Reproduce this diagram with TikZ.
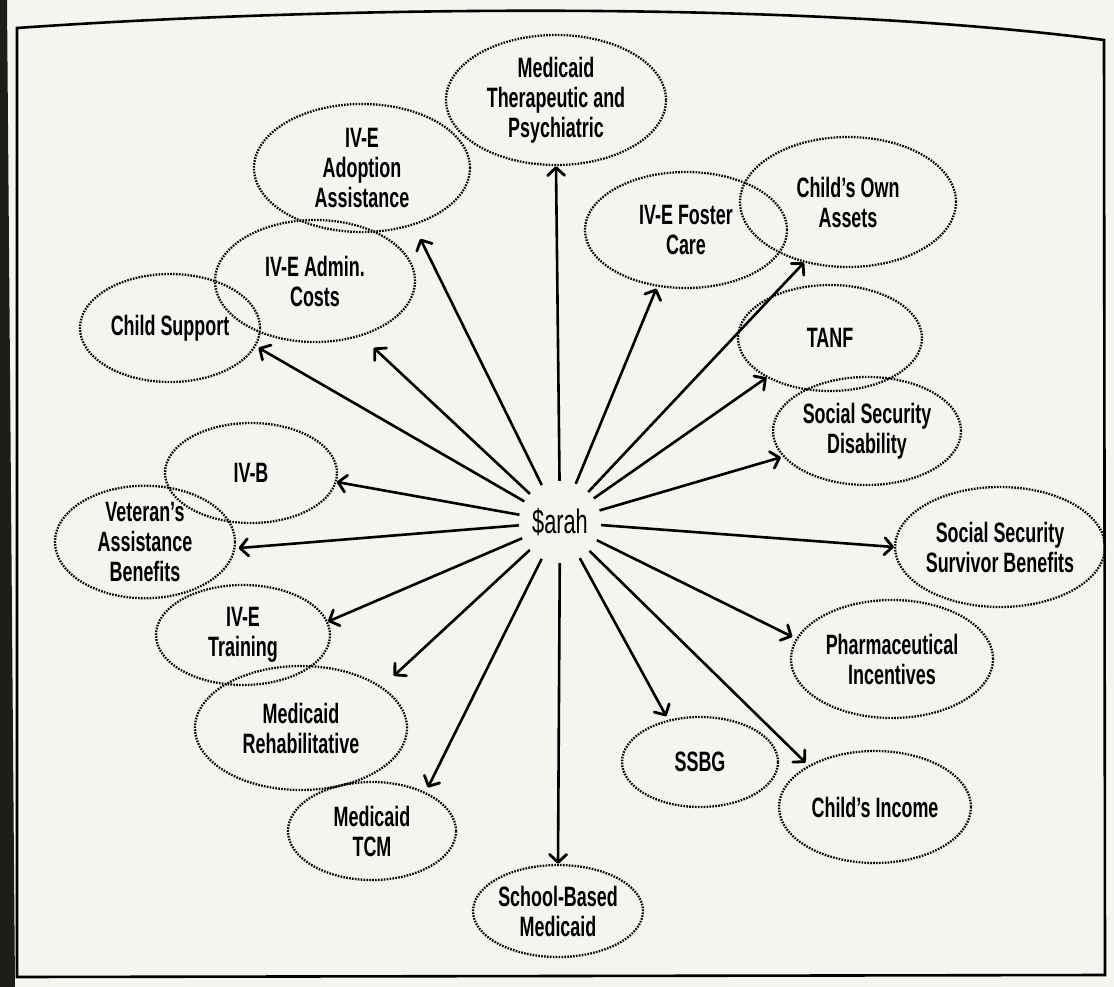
\documentclass[tikz,border=0pt]{standalone}
\usepackage{fontspec}
\setmainfont{Liberation Sans}[FakeStretch=0.64]
\usetikzlibrary{shapes.geometric,arrows.meta}
\definecolor{paper}{RGB}{246,244,241}
\definecolor{edge}{RGB}{30,30,22}

\begin{document}
\begin{tikzpicture}[x=1pt,y=-1pt,
    fund/.style 2 args={ellipse, draw, line width=2.3pt, dash pattern=on 1.6pt off 1.3pt,
        minimum width=#1pt, minimum height=#2pt, inner sep=0pt, align=center,
        font=\bfseries\fontsize{28}{30}\selectfont},
    flow/.style={-{Straight Barb[length=8pt,width=17pt,line width=2.8pt,round]}, line width=2.6pt}]
    \useasboundingbox (0,0) rectangle (1114,987);
    \fill[paper] (0,0) rectangle (1114,987);
    \fill[edge] (0,0)--(7,0)--(15,987)--(0,987)--cycle;
    \draw[line width=2.6pt] (17,28) .. controls (300,8) and (780,-2) .. (1104,40)--(1105,975)--(17,977)--cycle;

    \node[circle, minimum size=82pt, inner sep=0pt, font=\fontsize{34}{38}\selectfont] (sarah) at (560,522) {\$arah};

    \node[fund={220}{130}] (medpsy) at (556,100) {Medicaid\\Therapeutic and\\Psychiatric};
    \node[fund={216}{128}] (adopt) at (362,168) {IV-E\\Adoption\\Assistance};
    \node[fund={200}{122}] (admin) at (315,281) {IV-E Admin.\\Costs};
    \node[fund={180}{108}] (support) at (170,328) {Child Support};
    \node[fund={172}{100}] (ivb) at (251,473) {IV-B};
    \node[fund={180}{110}] (veteran) at (145,542) {Veteran’s\\Assistance\\Benefits};
    \node[fund={174}{100}] (training) at (243,635) {IV-E\\Training};
    \node[fund={212}{124}] (rehab) at (301,728) {Medicaid\\Rehabilitative};
    \node[fund={168}{98}] (tcm) at (372,831) {Medicaid\\TCM};
    \node[fund={170}{92}] (school) at (558,911) {School-Based\\Medicaid};
    \node[fund={156}{90}] (ssbg) at (700,762) {SSBG};
    \node[fund={192}{112}] (income) at (875,807) {Child’s Income};
    \node[fund={202}{118}] (pharma) at (892,659) {Pharmaceutical\\Incentives};
    \node[fund={184}{120}] (survivor) at (1000,547) {Social Security\\Survivor Benefits};
    \node[fund={188}{108}] (disability) at (867,431) {Social Security\\Disability};
    \node[fund={184}{106}] (tanf) at (830,338) {TANF};
    \node[fund={216}{130}] (assets) at (848,202) {Child’s Own\\Assets};
    \node[fund={202}{116}] (foster) at (686,230) {IV-E Foster\\Care};

    \draw[flow] (sarah) -- (medpsy.south);
    \draw[flow, shorten >=15pt] (sarah) -- (adopt.-48);
    \draw[flow, shorten >=17pt] (sarah) -- (admin.-50);
    \draw[flow, shorten >=3pt] (sarah) -- (support.-12);
    \draw[flow] (sarah) -- (ivb.-6);
    \draw[flow, shorten >=3pt] (sarah) -- (veteran.-4);
    \draw[flow] (sarah) -- (training.9);
    \draw[flow, shorten >=16pt] (sarah) -- (rehab.27);
    \draw[flow, shorten >=5pt] (sarah) -- (tcm.36);
    \draw[flow] (sarah) -- (school.north);
    \draw[flow, shorten >=4pt] (sarah) -- (ssbg.127);
    \draw[flow, shorten >=4pt] (sarah) -- (income.148);
    \draw[flow, shorten >=4pt] (sarah) -- (pharma.168);
    \draw[flow] (sarah) -- (survivor.west);
    \draw[flow, shorten >=2pt] (sarah) -- (disability.197);
    \draw[flow] (sarah) -- (tanf.212);
    \draw[flow] (sarah) -- (assets.234);
    \draw[flow, shorten >=2pt] (sarah) -- (foster.243);
\end{tikzpicture}
\end{document}
